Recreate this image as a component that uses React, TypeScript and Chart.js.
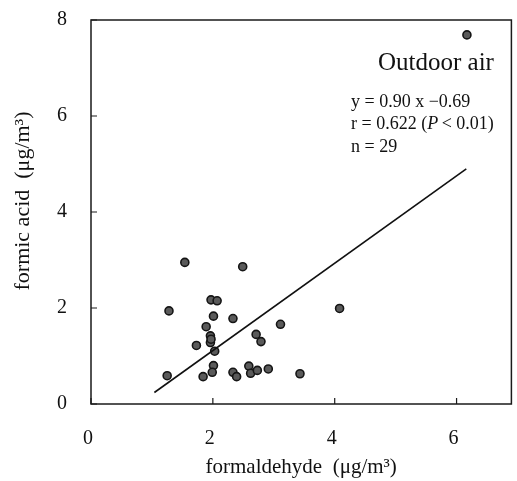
import React, { useEffect, useRef } from "react";
import { Chart, registerables } from "chart.js";

Chart.register(...registerables);

// formaldehyde (x) and formic acid (y), outdoor air, n = 29
const FORMALDEHYDE = [1.54, 2.49, 1.97, 2.07, 1.28, 4.08, 2.01, 2.33, 1.89, 3.11, 2.71, 2.79, 1.96, 1.96, 1.97, 1.73, 2.03, 2.01, 1.99, 1.84, 1.25, 2.33, 2.39, 2.59, 2.62, 2.73, 2.91, 3.43, 6.17];
const FORMIC_ACID = [2.95, 2.86, 2.17, 2.15, 1.94, 1.99, 1.83, 1.78, 1.61, 1.66, 1.45, 1.30, 1.42, 1.28, 1.35, 1.22, 1.10, 0.80, 0.66, 0.57, 0.59, 0.66, 0.57, 0.79, 0.64, 0.70, 0.73, 0.63, 7.69];

// regression line endpoints
const REG_X = [1.04, 6.16];
const REG_Y = [0.24, 4.9];

const X_TICKS = [0, 2, 4, 6];
const Y_TICKS = [0, 2, 4, 6, 8];

const X_TITLE = "formaldehyde  (μg/m³)";
const Y_TITLE = "    formic acid  (μg/m³)";
const LABEL = "Outdoor air";
const EQ_LINE = "y = 0.90 x −0.69";
const N_LINE = "n = 29";

const SERIF = "'Liberation Serif', 'Times New Roman', serif";

const framePlugin = {
  id: "frame",
  afterDatasetsDraw(chart: any) {
    const { ctx, chartArea } = chart;
    const { left, right, top, bottom } = chartArea;
    ctx.save();
    ctx.strokeStyle = "#1a1a1a";
    ctx.lineWidth = 1.5;
    ctx.strokeRect(left, top, right - left, bottom - top);
    // inward ticks
    const xs = chart.scales.x;
    const ys = chart.scales.y;
    ctx.lineWidth = 1.2;
    ctx.beginPath();
    X_TICKS.forEach((v) => {
      const px = xs.getPixelForValue(v);
      ctx.moveTo(px, bottom);
      ctx.lineTo(px, bottom - 6);
    });
    Y_TICKS.forEach((v) => {
      const py = ys.getPixelForValue(v);
      ctx.moveTo(left, py);
      ctx.lineTo(left + 6, py);
    });
    ctx.stroke();

    // annotations
    ctx.fillStyle = "#111";
    ctx.textBaseline = "middle";
    ctx.textAlign = "left";
    ctx.font = `25px ${SERIF}`;
    ctx.fillText(LABEL, 378, 63);
    ctx.font = `18px ${SERIF}`;
    ctx.fillText(EQ_LINE, 351, 102);
    // r line with italic P
    let x = 351;
    const y = 124;
    const parts: [string, boolean][] = [
      ["r = 0.622 (", false],
      ["P", true],
      [" < 0.01)", false],
    ];
    parts.forEach(([t, it]) => {
      ctx.font = `${it ? "italic " : ""}18px ${SERIF}`;
      ctx.fillText(t, x, y);
      x += ctx.measureText(t).width - (it ? 1 : 0);
    });
    ctx.font = `18px ${SERIF}`;
    ctx.fillText(N_LINE, 351, 147);
    ctx.restore();
  },
};

export default function App() {
  const ref = useRef<HTMLCanvasElement>(null);
  useEffect(() => {
    document.body.style.margin = "0";
    const canvas = ref.current!;
    const points = FORMALDEHYDE.map((v, i) => ({ x: v, y: FORMIC_ACID[i] }));
    const line = REG_X.map((v, i) => ({ x: v, y: REG_Y[i] }));
    const chart = new Chart(canvas, {
      type: "scatter",
      data: {
        datasets: [
          {
            type: "line",
            data: line,
            borderColor: "#111",
            borderWidth: 1.6,
            pointRadius: 0,
            fill: false,
          } as any,
          {
            data: points,
            backgroundColor: "#5a5a5a",
            borderColor: "#151515",
            borderWidth: 1.6,
            pointRadius: 4,
          },
        ],
      },
      options: {
        responsive: false,
        animation: false,
        layout: { padding: { left: 0, right: 4, top: 20, bottom: 0 } },
        plugins: { legend: { display: false }, tooltip: { enabled: false } },
        scales: {
          x: {
            type: "linear",
            min: 0,
            max: 6.9,
            grid: { display: false, drawTicks: false },
            border: { display: false },
            afterBuildTicks: (s: any) => {
              s.ticks = X_TICKS.map((v) => ({ value: v }));
            },
            afterFit: (s: any) => {
              s.height = 77;
              s.paddingLeft = 0;
              s.paddingRight = 0;
            },
            ticks: {
              padding: 23,
              labelOffset: -3,
              color: "#111",
              font: { family: SERIF, size: 20 },
              maxRotation: 0,
            },
            title: {
              display: true,
              text: X_TITLE,
              color: "#111",
              font: { family: SERIF, size: 21 },
              padding: { top: 0, bottom: 1 },
            },
          },
          y: {
            type: "linear",
            min: 0,
            max: 8,
            grid: { display: false, drawTicks: false },
            border: { display: false },
            afterBuildTicks: (s: any) => {
              s.ticks = Y_TICKS.map((v) => ({ value: v }));
            },
            afterFit: (s: any) => {
              s.width = 91;
              s.paddingTop = 0;
              s.paddingBottom = 0;
            },
            ticks: {
              padding: 24,
              color: "#111",
              font: { family: SERIF, size: 20 },
            },
            title: {
              display: true,
              text: Y_TITLE,
              color: "#111",
              font: { family: SERIF, size: 22 },
              padding: { top: 10, bottom: 0 },
            },
          },
        },
      },
      plugins: [framePlugin],
    });
    return () => chart.destroy();
  }, []);
  return <canvas ref={ref} width={517} height={481} style={{ display: "block" }} />;
}
